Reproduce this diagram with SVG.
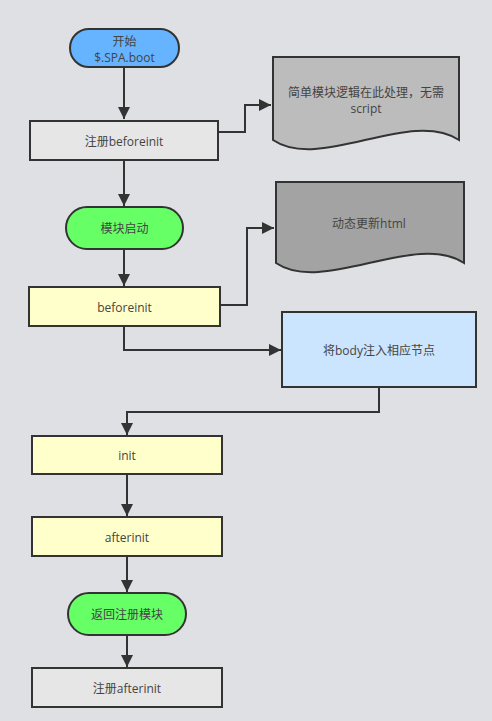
<svg xmlns="http://www.w3.org/2000/svg" width="492" height="721" viewBox="0 0 492 721">
<style>
.n{stroke:#333;stroke-width:2}
.t{font-family:"Open Sans","Noto Sans CJK SC",sans-serif;font-size:12px;fill:#444;text-anchor:middle;dominant-baseline:central}
.c{fill:none;stroke:#333;stroke-width:2}
</style>
<defs>
<marker id="a" markerUnits="userSpaceOnUse" markerWidth="14" markerHeight="12" refX="12" refY="6" orient="auto">
<path d="M0,0 L12,6 L0,12 Z" fill="#333"/>
</marker>
</defs>
<rect width="492" height="721" fill="#dfe0e4"/>
<g id="connectors">
<path class="c" d="M124,67 V119" marker-end="url(#a)"/>
<path class="c" d="M218,132 H245 V105 H271" marker-end="url(#a)"/>
<path class="c" d="M124,160 V206" marker-end="url(#a)"/>
<path class="c" d="M124,249 V286" marker-end="url(#a)"/>
<path class="c" d="M220,305 H247 V228 H274" marker-end="url(#a)"/>
<path class="c" d="M124,326 V350 H281" marker-end="url(#a)"/>
<path class="c" d="M379,387 V412 H127 V435" marker-end="url(#a)"/>
<path class="c" d="M127,474 V516" marker-end="url(#a)"/>
<path class="c" d="M127,556 V592" marker-end="url(#a)"/>
<path class="c" d="M127,635 V667" marker-end="url(#a)"/>
</g>
<g id="start">
<rect class="n" x="70" y="29" width="109" height="38" rx="19" fill="#66b3ff"/>
<text class="t" x="124.5" y="41">开始</text>
<text class="t" x="124.5" y="57">$.SPA.boot</text>
</g>
<g id="reg-beforeinit">
<rect class="n" x="30" y="121" width="188" height="39" fill="#e6e6e6"/>
<text class="t" x="124" y="141">注册beforeinit</text>
</g>
<g id="doc1">
<path class="n" d="M273,57 H459 V140 C410,108 320,172 273,140 Z" fill="#bcbcbc"/>
<text class="t" x="366" y="92">简单模块逻辑在此处理，无需</text>
<text class="t" x="366" y="108">script</text>
</g>
<g id="module-start">
<rect class="n" x="66" y="207" width="117" height="42" rx="21" fill="#66ff66"/>
<text class="t" x="124.5" y="228">模块启动</text>
</g>
<g id="doc2">
<path class="n" d="M276,182 H464 V263 C415,231 323,295 276,263 Z" fill="#a3a3a3"/>
<text class="t" x="369" y="223">动态更新html</text>
</g>
<g id="beforeinit">
<rect class="n" x="29" y="287" width="191" height="39" fill="#ffffcc"/>
<text class="t" x="124.5" y="307">beforeinit</text>
</g>
<g id="body">
<rect class="n" x="282" y="312" width="194" height="75" fill="#cce5ff"/>
<text class="t" x="379" y="350">将body注入相应节点</text>
</g>
<g id="init">
<rect class="n" x="32" y="436" width="190" height="38" fill="#ffffcc"/>
<text class="t" x="127" y="455">init</text>
</g>
<g id="afterinit">
<rect class="n" x="32" y="517" width="190" height="39" fill="#ffffcc"/>
<text class="t" x="127" y="537">afterinit</text>
</g>
<g id="return">
<rect class="n" x="68" y="593" width="118" height="42" rx="21" fill="#66ff66"/>
<text class="t" x="127" y="614">返回注册模块</text>
</g>
<g id="reg-afterinit">
<rect class="n" x="32" y="668" width="190" height="39" fill="#e6e6e6"/>
<text class="t" x="127" y="688">注册afterinit</text>
</g>
</svg>
